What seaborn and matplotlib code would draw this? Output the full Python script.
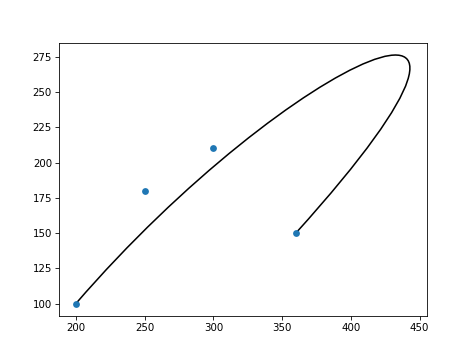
import matplotlib
matplotlib.use("Agg")
import matplotlib.pyplot as plt
from matplotlib.path import Path
from matplotlib.patches import PathPatch
import seaborn as sns
import pandas as pd

# scatter data
point_x = [200, 250, 300, 360]
point_y = [100, 180, 210, 150]

# cubic Bezier control points for the curve (start, ctrl1, ctrl2, end)
curve_x = [200, 355, 560, 360]
curve_y = [100, 275, 366, 150]

fig, ax = plt.subplots(figsize=(474 / 74, 355 / 74), dpi=74)

verts = list(zip(curve_x, curve_y))
codes = [Path.MOVETO, Path.CURVE4, Path.CURVE4, Path.CURVE4]
patch = PathPatch(Path(verts, codes), facecolor="none", edgecolor="black", lw=1.5)
ax.add_patch(patch)

df = pd.DataFrame({"x": point_x, "y": point_y})
sns.scatterplot(data=df, x="x", y="y", ax=ax, color="#1f77b4", s=44, linewidth=0, zorder=2)
ax.set_xlabel("")
ax.set_ylabel("")
ax.autoscale_view()

fig.savefig("out.png", dpi=74)
